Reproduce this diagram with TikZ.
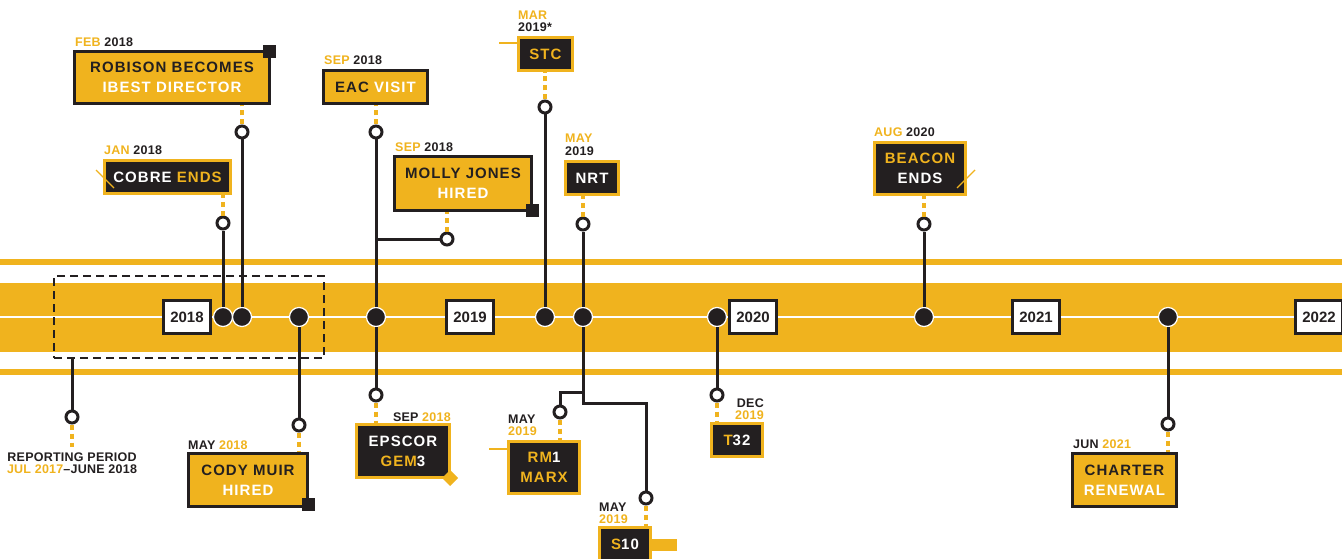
\documentclass[tikz,border=0pt]{standalone}
\usepackage{fontspec}
\setmainfont{Liberation Sans}
\newfontfamily\boxfont[LetterSpace=7]{Liberation Sans}
\newfontfamily\lblfont[LetterSpace=2]{Liberation Sans}
\definecolor{gold}{RGB}{240,179,30}
\definecolor{ink}{RGB}{35,31,32}
\newcommand\Yc[1]{\textcolor{gold}{#1}}
\newcommand\Wc[1]{\textcolor{white}{#1}}
\newcommand\Dc[1]{\textcolor{ink}{#1}}
\tikzset{
  ybox/.style={draw=ink, fill=gold, line width=3pt, inner sep=0pt, align=center,
    font=\boxfont\bfseries\fontsize{15}{20}\selectfont, text=ink},
  dbox/.style={draw=gold, fill=ink, line width=3pt, inner sep=0pt, align=center,
    font=\boxfont\bfseries\fontsize{15}{20}\selectfont, text=white},
  yearbox/.style={draw=ink, fill=white, line width=3pt, minimum width=47pt,
    minimum height=33pt, inner sep=0pt, font=\bfseries\fontsize{15}{18}\selectfont, text=ink},
  tdot/.style={circle, fill=ink, draw=white, line width=1.2pt, minimum size=19pt, inner sep=0pt},
  ring/.style={circle, fill=white, draw=ink, line width=3pt, minimum size=12pt, inner sep=0pt},
  conn/.style={draw=ink, line width=3pt},
  dconn/.style={draw=gold, line width=3.2pt, dash pattern=on 5pt off 4pt},
  lbl/.style={font=\lblfont\bfseries\fontsize{12.5}{13}\selectfont, inner sep=0pt},
  sq/.style={fill=ink, minimum size=13pt, inner sep=0pt},
  tick/.style={draw=gold, line width=1.4pt},
}
\begin{document}
\begin{tikzpicture}[x=1pt,y=-1pt]
\useasboundingbox (0,0) rectangle (1342,559);
% bands
\fill[gold] (0,259) rectangle (1342,265);
\fill[gold] (0,283) rectangle (1342,352);
\fill[gold] (0,369) rectangle (1342,375);
\draw[white, line width=1.8pt] (0,317) -- (1342,317);
% reporting period frame
\node[draw=ink, line width=2.5pt, dash pattern=on 8pt off 5pt, minimum width=270pt,
  minimum height=82pt, inner sep=0pt] (rp) at (189,317) {};
% year boxes
\node[yearbox] (y18) at (187,317) {2018};
\node[yearbox] (y19) at (470,317) {2019};
\node[yearbox] (y20) at (753,317) {2020};
\node[yearbox] (y21) at (1036,317) {2021};
\node[yearbox] (y22) at (1319,317) {2022};
% dots
\node[tdot] (d1) at (223,317) {};
\node[tdot] (d2) at (242,317) {};
\node[tdot] (d3) at (299,317) {};
\node[tdot] (d4) at (376,317) {};
\node[tdot] (d5) at (545,317) {};
\node[tdot] (d6) at (583,317) {};
\node[tdot] (d7) at (717,317) {};
\node[tdot] (d8) at (924,317) {};
\node[tdot] (d9) at (1168,317) {};
% rings
\node[ring] (r1) at (223,223) {};
\node[ring] (r2) at (242,132) {};
\node[ring] (r3) at (376,132) {};
\node[ring] (r4) at (447,239) {};
\node[ring] (r5) at (545,107) {};
\node[ring] (r6) at (583,224) {};
\node[ring] (r7) at (924,224) {};
\node[ring] (r8) at (72,417) {};
\node[ring] (r9) at (299,425) {};
\node[ring] (r10) at (376,395) {};
\node[ring] (r11) at (560,412) {};
\node[ring] (r12) at (646,498) {};
\node[ring] (r13) at (717,395) {};
\node[ring] (r14) at (1168,424) {};
% boxes above
\node[ybox, minimum width=195pt, minimum height=52pt] (rob) at (172,77.5)
  {\Dc{ROBISON BECOMES}\\\Wc{IBEST DIRECTOR}};
\node[sq] (sqrob) at (269.5,51.5) {};
\node[dbox, minimum width=126pt, minimum height=33pt] (cobre) at (167.5,177)
  {\Wc{COBRE} \Yc{ENDS}};
\node[ybox, minimum width=104pt, minimum height=33pt] (eac) at (375.5,87)
  {\Dc{EAC} \Wc{VISIT}};
\node[ybox, minimum width=137pt, minimum height=54pt] (molly) at (463,183.5)
  {\Dc{MOLLY JONES}\\\Wc{HIRED}};
\node[sq] (sqmolly) at (532.5,210.5) {};
\node[dbox, minimum width=54pt, minimum height=33pt] (stc) at (545.5,54) {\Yc{STC}};
\node[dbox, minimum width=53pt, minimum height=33pt] (nrt) at (592,178) {\Wc{NRT}};
\node[dbox, minimum width=91pt, minimum height=52pt] (beacon) at (920,168.5)
  {\Yc{BEACON}\\\Wc{ENDS}};
% boxes below
\node[ybox, minimum width=119pt, minimum height=53pt] (cody) at (248,480)
  {\Dc{CODY MUIR}\\\Wc{HIRED}};
\node[sq] (sqcody) at (308.5,504.5) {};
\node[dbox, minimum width=93pt, minimum height=53pt] (epscor) at (403,451)
  {\Wc{EPSCOR}\\\Yc{GEM}\Wc{3}};
\fill[gold] (450,470) -- (458,478) -- (450,486) -- (442,478) -- cycle;
\node[dbox, minimum width=71pt, minimum height=52pt] (rm) at (544,467.5)
  {\Yc{RM}\Wc{1}\\\Yc{MARX}};
\node[dbox, minimum width=51pt, minimum height=33pt] (s10) at (625,544)
  {\Yc{S}\Wc{10}};
\fill[gold] (651,539) rectangle (677,551);
\node[dbox, minimum width=51pt, minimum height=33pt] (t32) at (737,440)
  {\Yc{T}\Wc{32}};
\node[ybox, minimum width=104pt, minimum height=53pt] (charter) at (1124.5,480)
  {\Dc{CHARTER}\\\Wc{RENEWAL}};
% labels
\node[lbl, anchor=base west] (lrob) at (75,47) {\Yc{FEB} \Dc{2018}};
\node[lbl, anchor=base west] (lcob) at (104,155) {\Yc{JAN} \Dc{2018}};
\node[lbl, anchor=base west] (leac) at (324,65) {\Yc{SEP} \Dc{2018}};
\node[lbl, anchor=base west] (lmol) at (395,152) {\Yc{SEP} \Dc{2018}};
\node[lbl, anchor=base west] (lstc1) at (518,20) {\Yc{MAR}};
\node[lbl, anchor=base west] (lstc2) at (518,32) {\Dc{2019*}};
\node[lbl, anchor=base west] (lnrt1) at (565,143) {\Yc{MAY}};
\node[lbl, anchor=base west] (lnrt2) at (565,156) {\Dc{2019}};
\node[lbl, anchor=base west] (lbea) at (874,137) {\Yc{AUG} \Dc{2020}};
\node[lbl, anchor=base west] (lcod) at (188,449) {\Dc{MAY} \Yc{2018}};
\node[lbl, anchor=base east] (leps) at (451,421) {\Dc{SEP} \Yc{2018}};
\node[lbl, anchor=base west] (lrm1) at (508,423) {\Dc{MAY}};
\node[lbl, anchor=base west] (lrm2) at (508,435) {\Yc{2019}};
\node[lbl, anchor=base west] (ls1) at (599,511) {\Dc{MAY}};
\node[lbl, anchor=base west] (ls2) at (599,523) {\Yc{2019}};
\node[lbl, anchor=base east] (lt1) at (764,407) {\Dc{DEC}};
\node[lbl, anchor=base east] (lt2) at (764,419) {\Yc{2019}};
\node[lbl, anchor=base west] (lch) at (1073,448) {\Dc{JUN} \Yc{2021}};
\node[lbl, anchor=base] (lrp1) at (72,461) {\Dc{REPORTING PERIOD}};
\node[lbl, anchor=base] (lrp2) at (72,473) {\Yc{JUL 2017}\Dc{\textendash JUNE 2018}};
% ticks
\draw[tick] (96,170) -- (114,188);
\draw[tick] (957,188) -- (975,170);
\draw[tick] (499,43) -- (stc.west |- 0,43);
\draw[tick] (489,449) -- (rm.west |- 0,449);
% coordinates
\coordinate (bm) at (376,239);
\coordinate (b1) at (583,392);
\coordinate (b2) at (583,403);
\coordinate (rpend) at (72,447);
% dark connectors
\draw[conn] (d1.north) -- (r1.south);
\draw[conn] (d2.north) -- (r2.south);
\draw[conn] (d4.north) -- (r3.south);
\draw[conn] (bm) -- (r4.west);
\draw[conn] (d5.north) -- (r5.south);
\draw[conn] (d6.north) -- (r6.south);
\draw[conn] (d8.north) -- (r7.south);
\draw[conn] (rp.south -| r8) -- (r8.north);
\draw[conn] (d3.south) -- (r9.north);
\draw[conn] (d4.south) -- (r10.north);
\draw[conn] (b1) -| (r11.north);
\draw[conn] (d6.south) -- (b2) -| (r12.north);
\draw[conn] (d7.south) -- (r13.north);
\draw[conn] (d9.south) -- (r14.north);
% dashed gold connectors
\draw[dconn] (r1.north) -- (r1.north |- cobre.south);
\draw[dconn] (r2.north) -- (r2.north |- rob.south);
\draw[dconn] (r3.north) -- (r3.north |- eac.south);
\draw[dconn] (r4.north) -- (r4.north |- molly.south);
\draw[dconn] (r5.north) -- (r5.north |- stc.south);
\draw[dconn] (r6.north) -- (r6.north |- nrt.south);
\draw[dconn] (r7.north) -- (r7.north |- beacon.south);
\draw[dconn] (r8.south) -- (rpend);
\draw[dconn] (r9.south) -- (r9.south |- cody.north);
\draw[dconn] (r10.south) -- (r10.south |- epscor.north);
\draw[dconn] (r11.south) -- (r11.south |- rm.north);
\draw[dconn] (r12.south) -- (r12.south |- s10.north);
\draw[dconn] (r13.south) -- (r13.south |- t32.north);
\draw[dconn] (r14.south) -- (r14.south |- charter.north);
\end{tikzpicture}
\end{document}
